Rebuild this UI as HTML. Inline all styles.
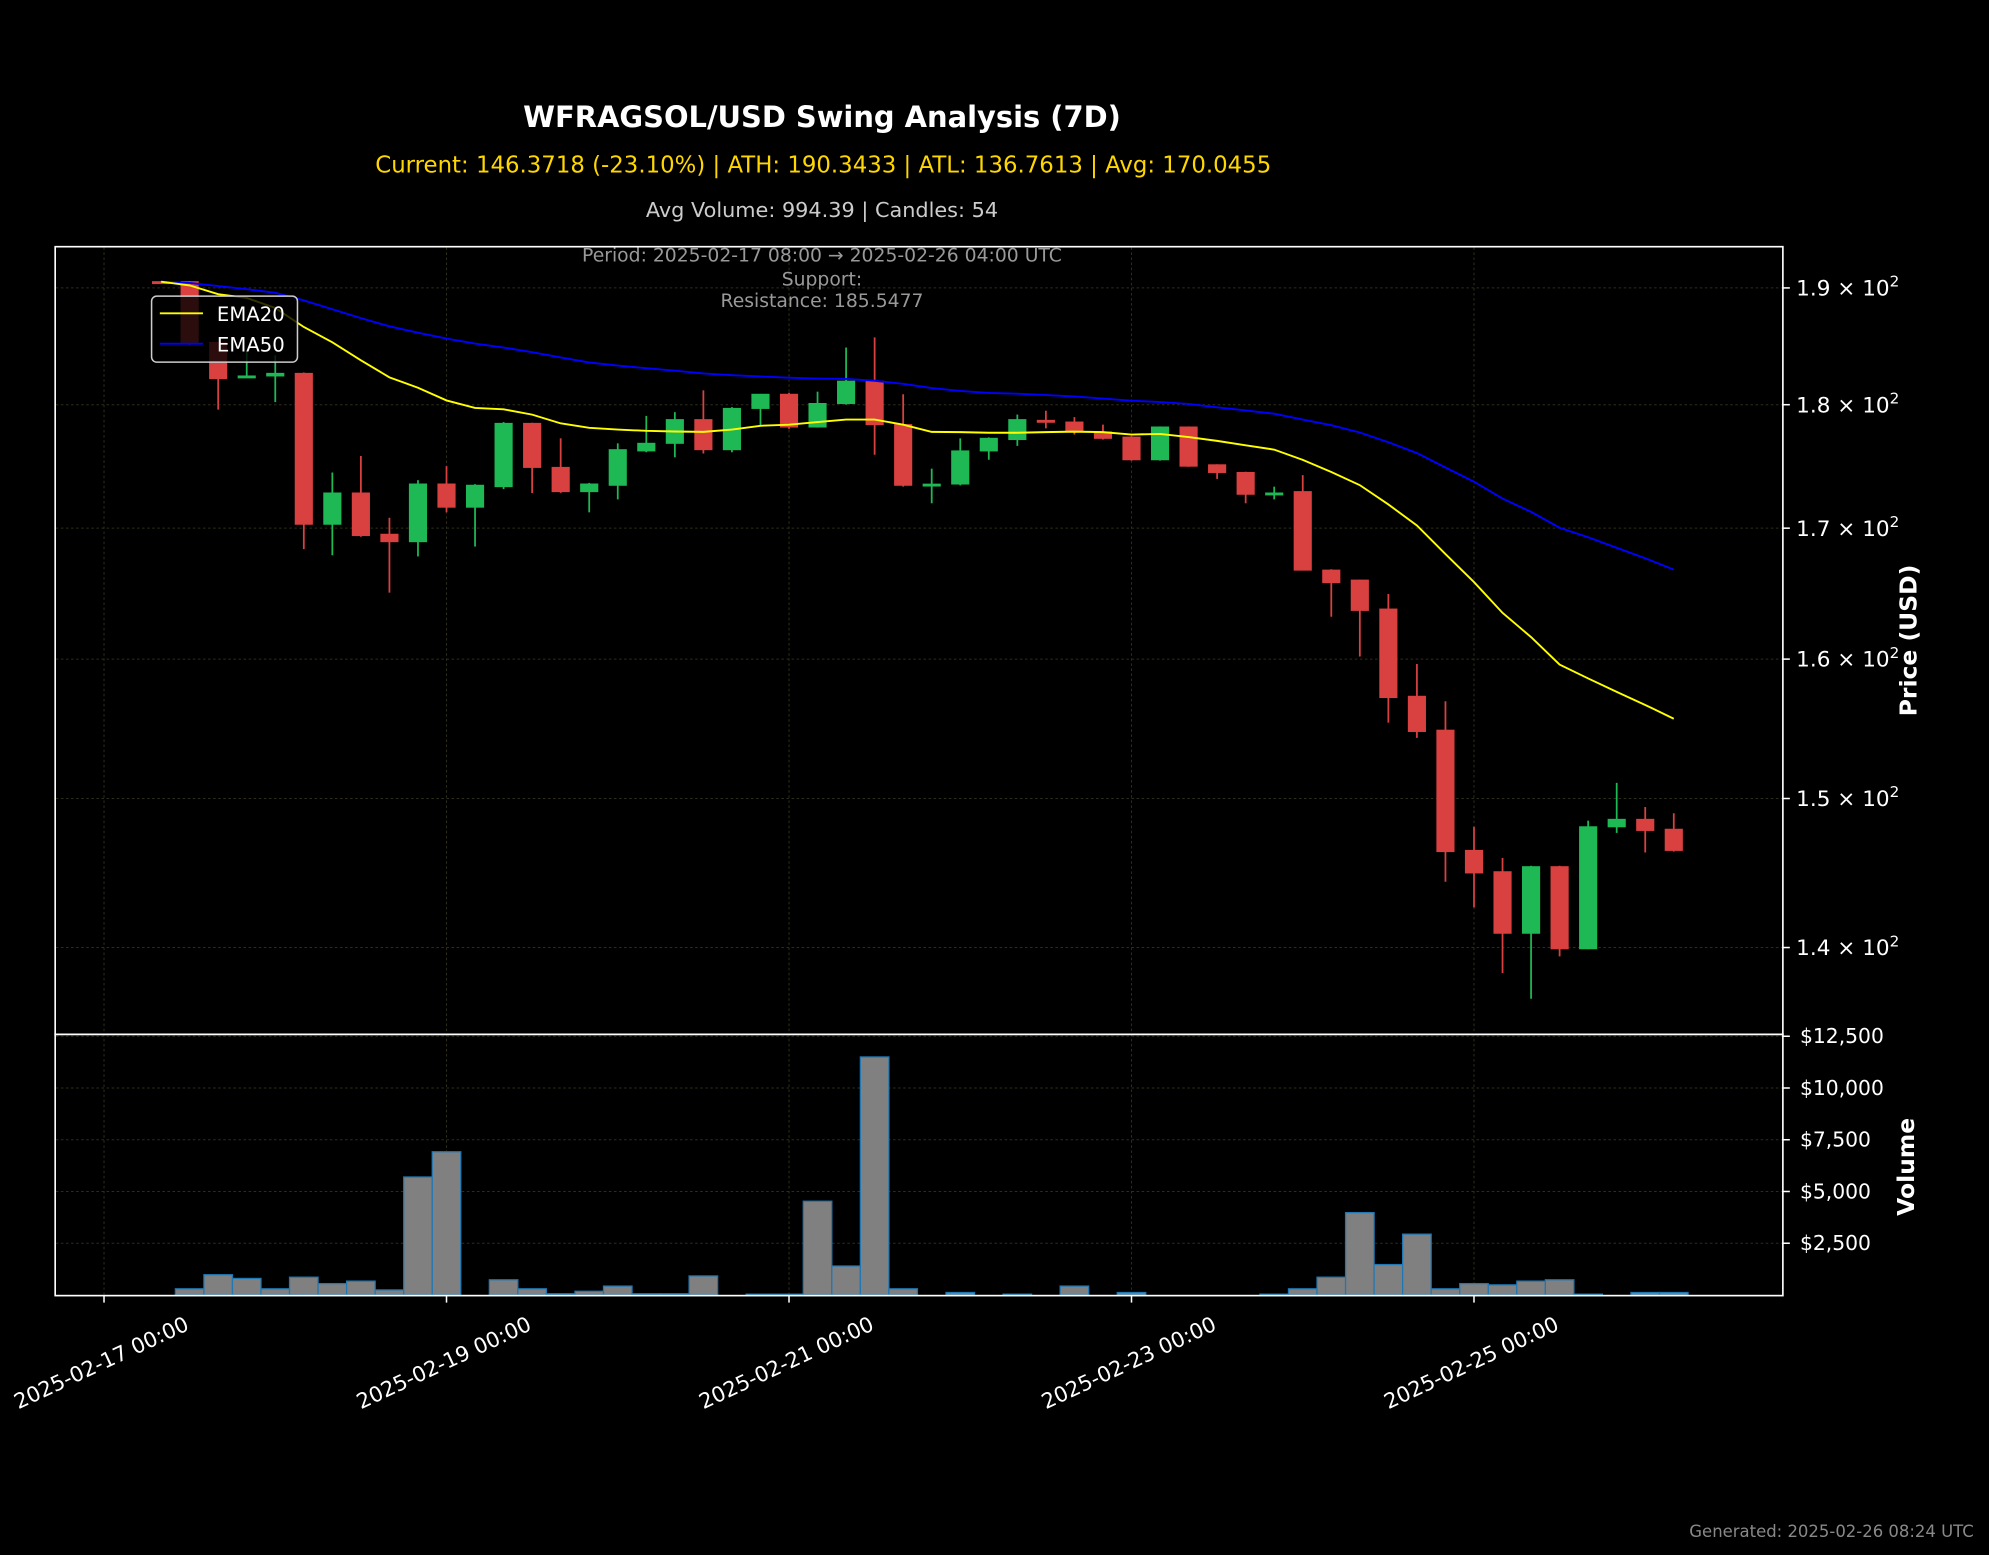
<!DOCTYPE html>
<html><head><meta charset="utf-8"><style>
html,body{margin:0;padding:0;background:#000;}
svg{display:block;}
text{font-family:"DejaVu Sans","Liberation Sans",sans-serif;}
</style></head><body>
<svg id="chart" width="1989" height="1555" viewBox="0 0 1568 1226" preserveAspectRatio="none" xmlns="http://www.w3.org/2000/svg">
<rect x="0" y="0" width="1568" height="1226" fill="#000"/>
<text x="648" y="100" text-anchor="middle" fill="#fff" font-size="22.8" font-weight="bold">WFRAGSOL/USD Swing Analysis (7D)</text>
<text x="649" y="136" text-anchor="middle" fill="#ffd700" font-size="18">Current: 146.3718 (-23.10%) | ATH: 190.3433 | ATL: 136.7613 | Avg: 170.0455</text>
<text x="648" y="171" text-anchor="middle" fill="#cccccc" font-size="16.4">Avg Volume: 994.39 | Candles: 54</text>
<g id="grid"></g>
<g id="vol"></g>
<g id="candles"></g>
<g id="ema"></g>
<g fill="#999" font-size="14.8" text-anchor="middle">
<text x="648" y="206">Period: 2025-02-17 08:00 → 2025-02-26 04:00 UTC</text>
<text x="648" y="225">Support: </text>
<text x="648" y="242">Resistance: 185.5477</text>
</g>
<g>
<rect x="119.5" y="233.5" width="115" height="52" rx="4" fill="rgba(0,0,0,0.8)" stroke="#ccc" stroke-width="1.2"/>
<line x1="126" y1="247" x2="160" y2="247" stroke="#ffff00" stroke-width="1.5"/>
<text x="171" y="253" fill="#fff" font-size="15.5">EMA20</text>
<line x1="126" y1="271" x2="160" y2="271" stroke="#0000ff" stroke-width="1.5"/>
<text x="171" y="277" fill="#fff" font-size="15.5">EMA50</text>
</g>
<rect x="43.5" y="194.5" width="1362" height="621" fill="none" stroke="#fff" stroke-width="1.3"/>
<rect x="43.5" y="815.5" width="1362" height="206" fill="none" stroke="#fff" stroke-width="1.3"/>
<g id="axes"></g>
<text transform="translate(1511,505) rotate(-90)" text-anchor="middle" fill="#fff" font-size="18.5" font-weight="bold">Price (USD)</text>
<text transform="translate(1509,920) rotate(-90)" text-anchor="middle" fill="#fff" font-size="18.5" font-weight="bold">Volume</text>
<text x="1556" y="1212" text-anchor="end" fill="#888" font-size="13">Generated: 2025-02-26 08:24 UTC</text>
</svg>
<script>
const opens  = [190.55,190.55,185.27,182.30,182.41,182.63,170.31,172.79,169.52,168.94,173.51,171.66,173.30,178.45,174.85,172.90,173.41,176.19,176.81,178.76,176.29,179.69,180.87,178.15,180.10,181.97,178.35,173.40,173.51,176.19,177.12,178.70,178.56,177.74,177.32,175.47,178.15,175.06,174.44,172.69,172.90,166.73,165.96,163.75,157.27,154.82,146.44,145.00,140.93,145.34,139.92,148.05,148.56,147.88];
const highs  = [190.60,190.60,185.30,184.50,184.17,182.70,174.44,175.78,170.82,173.82,174.95,173.50,178.56,178.50,177.22,173.60,176.81,179.07,179.38,181.20,179.80,180.90,181.00,181.09,184.83,185.70,180.87,174.75,177.22,177.30,179.18,179.50,178.97,178.35,177.40,178.20,178.20,175.10,174.50,173.30,174.23,166.80,166.00,164.90,159.64,156.91,148.05,145.93,145.40,145.40,148.47,151.09,149.41,148.98];
const lows   = [190.40,185.00,179.59,182.30,180.22,168.36,167.88,169.33,165.00,167.79,171.25,168.56,173.10,172.79,172.80,171.25,172.28,176.08,175.67,175.98,176.08,178.25,178.00,178.10,180.00,175.88,173.30,171.97,173.40,175.47,176.60,178.04,177.53,177.12,175.40,175.40,174.90,173.92,171.97,172.28,166.70,163.17,160.19,155.36,154.27,144.33,142.63,138.36,136.72,139.43,139.90,147.63,146.30,146.36];
const closes = [190.44,185.27,182.19,182.41,182.63,170.31,172.79,169.42,168.94,173.51,171.66,173.41,178.45,174.85,172.90,173.51,176.29,176.81,178.76,176.29,179.69,180.87,178.15,180.10,181.97,178.35,173.41,173.50,176.19,177.22,178.76,178.60,177.74,177.22,175.47,178.15,174.95,174.44,172.69,172.79,166.73,165.77,163.65,157.18,154.73,146.36,144.92,140.93,145.34,139.92,148.05,148.56,147.80,146.44];
const volumes = [0,300,980,800,300,860,550,670,245,5700,6920,0,735,300,60,180,430,60,60,920,0,40,40,4530,1400,11500,300,0,120,0,40,0,430,0,120,0,0,0,0,40,300,860,3980,1470,2940,300,550,490,670,735,40,0,120,120];
const ema20 = [190.55,190.22,189.45,189.12,188.24,186.59,185.27,183.73,182.30,181.42,180.36,179.73,179.62,179.18,178.45,178.08,177.94,177.83,177.78,177.75,177.94,178.25,178.35,178.56,178.76,178.76,178.35,177.75,177.73,177.68,177.68,177.73,177.77,177.73,177.53,177.58,177.32,177.01,176.65,176.29,175.46,174.48,173.42,171.88,170.21,167.98,165.81,163.46,161.64,159.59,158.57,157.59,156.64,155.64];
const ema50 = [190.55,190.44,190.17,189.89,189.56,188.90,188.13,187.36,186.65,186.10,185.60,185.16,184.83,184.43,183.98,183.55,183.29,183.07,182.85,182.63,182.48,182.37,182.26,182.19,182.16,182.01,181.75,181.39,181.15,180.98,180.92,180.80,180.69,180.52,180.34,180.22,180.06,179.79,179.52,179.25,178.76,178.30,177.70,176.90,176.02,174.84,173.69,172.34,171.28,170.03,169.28,168.46,167.65,166.77];
const priceTicks = [140,150,160,170,180,190];
const priceTickLabels = ["1.4","1.5","1.6","1.7","1.8","1.9"];
const volTicks = [2500,5000,7500,10000,12500];
const volTickLabels = ["$2,500","$5,000","$7,500","$10,000","$12,500"];
const dateTickDays = [0,2,4,6,8];
const dateTickLabels = ["2025-02-17 00:00","2025-02-19 00:00","2025-02-21 00:00","2025-02-23 00:00","2025-02-25 00:00"];
const startHour = 8, stepHours = 4;

const NS="http://www.w3.org/2000/svg";
function mk(tag, attrs, parent){const e=document.createElementNS(NS,tag);for(const k in attrs)e.setAttribute(k,attrs[k]);parent.appendChild(e);return e;}
const xDay = d => 82 + 135*d;
const xIdx = i => xDay((startHour + stepHours*i)/24);
const yP = p => 227 - 1703*Math.log(p/190);
const yV = v => 1021 - v*0.01632;
const slot = 135*stepHours/24;

const grid=document.getElementById('grid'), axes=document.getElementById('axes');
dateTickDays.forEach((d,k)=>{
  const x=xDay(d);
  const g=mk('line',{x1:x,x2:x,y1:195,y2:1021,stroke:'#2e2e18','stroke-width':0.8,'stroke-dasharray':'2,2'},grid);
  
  
  const tk=mk('line',{x1:x,x2:x,y1:1021,y2:1027,stroke:'#fff','stroke-width':1.2},axes);
  
  
  const ax=x+68, ay=1048;
  const t=mk('text',{x:ax,y:ay,'text-anchor':'end',fill:'#fff','font-size':16.6,transform:`rotate(-25 ${ax} ${ay})`},axes);
  t.textContent=dateTickLabels[k];
  
  
});
priceTicks.forEach((p,k)=>{
  const y=yP(p);
  const g=mk('line',{x1:44,x2:1405,y1:y,y2:y,stroke:'#2e2e18','stroke-width':0.8,'stroke-dasharray':'2,2'},grid);
  
  
  const tk=mk('line',{x1:1405,x2:1411,y1:y,y2:y,stroke:'#fff','stroke-width':1.2},axes);
  
  
  const t=mk('text',{x:1416,y:y+6,fill:'#fff','font-size':17},axes);
  t.textContent=priceTickLabels[k]+' × 10';
  const s=mk('tspan',{dy:-7,'font-size':12},t); s.textContent='2';
  
  
});
volTicks.forEach((v,k)=>{
  const y=yV(v);
  const g=mk('line',{x1:44,x2:1405,y1:y,y2:y,stroke:'#2e2e18','stroke-width':0.8,'stroke-dasharray':'2,2'},grid);
  
  
  const tk=mk('line',{x1:1405,x2:1411,y1:y,y2:y,stroke:'#fff','stroke-width':1.2},axes);
  
  
  const t=mk('text',{x:1419,y:y+5.5,fill:'#fff','font-size':16},axes);
  t.textContent=volTickLabels[k];
  
  
});
const vol=document.getElementById('vol');
volumes.forEach((v,i)=>{
  if(v<=0) return;
  const x=xIdx(i)-slot/2, y=yV(v);
  const r=mk('rect',{x:x,y:y,width:slot,height:1021-y,fill:'#808080',stroke:'#1f77b4','stroke-width':1},vol);
  
  
});
const cg=document.getElementById('candles');
const bw=13.5;
opens.forEach((o,i)=>{
  const c=closes[i], up=c>=o, col=up?'#1eb854':'#d94040';
  const x=xIdx(i);
  const w=mk('line',{x1:x,x2:x,y1:yP(highs[i]),y2:yP(lows[i]),stroke:col,'stroke-width':1.4},cg);
  
  
  const yt=yP(Math.max(o,c)), yb=yP(Math.min(o,c));
  const b=mk('rect',{x:x-bw/2,y:yt,width:bw,height:Math.max(1.5,yb-yt),fill:col,stroke:col,'stroke-width':0.8},cg);
  
  
});
const eg=document.getElementById('ema');
function line(arr,color,name){
  const d=arr.map((v,i)=>(i?'L':'M')+xIdx(i).toFixed(1)+','+yP(v).toFixed(1)).join(' ');
  const p=mk('path',{d:d,fill:'none',stroke:color,'stroke-width':1.5},eg);
  
  
}
line(ema50,'#0000ff','ema50-line');
line(ema20,'#ffff00','ema20-line');
</script>
</body></html>
